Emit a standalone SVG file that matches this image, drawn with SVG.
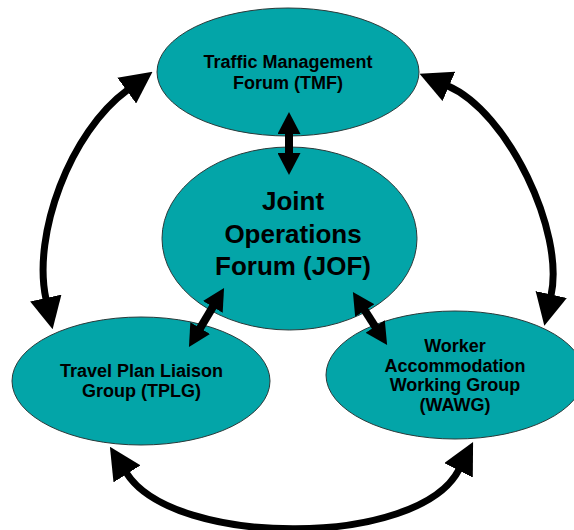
<svg xmlns="http://www.w3.org/2000/svg" width="574" height="530" viewBox="0 0 574 530">
  <defs>
    <style>
      .node { fill: #03A5A8; stroke: #2b3a3a; stroke-width: 1; }
      .lbl { font-family: "Liberation Sans", Arial, sans-serif; font-weight: bold; fill: #000; text-anchor: middle; }
      .s { font-size: 18px; }
      .l { font-size: 26px; }
      .curve { fill: none; stroke: #000; stroke-width: 7; marker-start: url(#bigHead); marker-end: url(#bigHead); }
      .straight { fill: none; stroke: #000; stroke-width: 8; marker-start: url(#smallHead); marker-end: url(#smallHead); }
    </style>
    <marker id="bigHead" viewBox="0 0 32 32" refX="1" refY="16" markerWidth="32" markerHeight="32" markerUnits="userSpaceOnUse" orient="auto-start-reverse">
      <path d="M0,0 L32,16 L0,32 Z" fill="#000"/>
    </marker>
    <marker id="smallHead" viewBox="0 0 22 23" refX="1" refY="11.5" markerWidth="22" markerHeight="23" markerUnits="userSpaceOnUse" orient="auto-start-reverse">
      <path d="M0,0 L22,11.5 L0,23 Z" fill="#000"/>
    </marker>
  </defs>
  <rect width="574" height="530" fill="#fff"/>
  <g id="TMF">
    <ellipse class="node" cx="288" cy="72" rx="131" ry="64"/>
    <text class="lbl s" x="288" y="68">Traffic Management</text>
    <text class="lbl s" x="288" y="89">Forum (TMF)</text>
  </g>
  <g id="JOF">
    <ellipse class="node" cx="289.5" cy="238.5" rx="127.5" ry="91.5"/>
    <text class="lbl l" x="293" y="210">Joint</text>
    <text class="lbl l" x="293" y="243">Operations</text>
    <text class="lbl l" x="293" y="275">Forum (JOF)</text>
  </g>
  <g id="TPLG">
    <ellipse class="node" cx="141" cy="381" rx="129" ry="64"/>
    <text class="lbl s" x="141.5" y="377">Travel Plan Liaison</text>
    <text class="lbl s" x="141.5" y="397">Group (TPLG)</text>
  </g>
  <g id="WAWG">
    <ellipse class="node" cx="455" cy="375" rx="129" ry="64"/>
    <text class="lbl s" x="455" y="352">Worker</text>
    <text class="lbl s" x="455" y="371.5">Accommodation</text>
    <text class="lbl s" x="455" y="391">Working Group</text>
    <text class="lbl s" x="455" y="410.5">(WAWG)</text>
  </g>
  <g id="connectors">
    <path class="straight" d="M289,133 L289,154"/>
    <path class="straight" d="M213.3,306.1 L199.7,328.9"/>
    <path class="straight" d="M364.3,309.7 L375.7,327.3"/>
    <path class="curve" d="M46,299 C32,235 70,132 127.5,90"/>
    <path class="curve" d="M551,295.5 C565,232 508,112 448,86"/>
    <path class="curve" d="M126.5,473 C174,548 419,548 459,469.5"/>
  </g>
</svg>
